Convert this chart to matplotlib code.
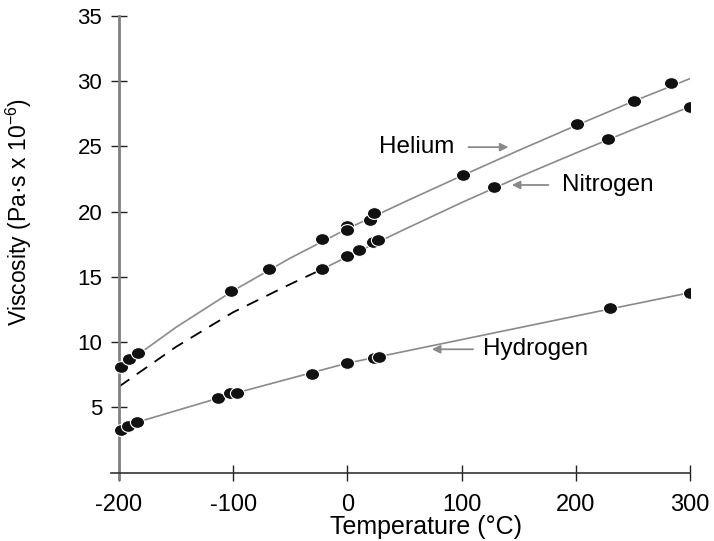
import matplotlib
matplotlib.use('Agg')
from matplotlib import pyplot as plt
from matplotlib.markers import MarkerStyle
from matplotlib.transforms import Affine2D

plt.rcParams['font.family'] = ['Liberation Sans', 'DejaVu Sans']
plt.rcParams['mathtext.default'] = 'regular'
plt.rcParams['axes.unicode_minus'] = False

# measured points
helium_t = [-198, -191, -183, -102, -69, -22, 0, 0, 20, 23, 101, 201, 251, 283]
helium_v = [8.1, 8.7, 9.2, 13.9, 15.6, 17.9, 18.9, 18.6, 19.4, 19.9, 22.8, 26.7, 28.5, 29.9]
nitrogen_t = [-22, 0, 10, 22, 27, 128, 228, 300]
nitrogen_v = [15.6, 16.6, 17.1, 17.7, 17.8, 21.9, 25.6, 28.0]
hydrogen_t = [-198, -192, -184, -113, -103, -97, -31, 0, 23, 28, 230, 300]
hydrogen_v = [3.3, 3.6, 3.9, 5.7, 6.1, 6.1, 7.6, 8.4, 8.8, 8.9, 12.6, 13.8]

# curves
helium_fit_t = [-200, -150, -100, -50, 0, 50, 100, 150, 200, 250, 300]
helium_fit_v = [8.0, 11.15, 13.95, 16.45, 18.7, 20.75, 22.75, 24.7, 26.6, 28.45, 30.2]
nitrogen_fit_t = [-22, 0, 50, 100, 150, 200, 250, 300]
nitrogen_fit_v = [15.6, 16.55, 18.65, 20.7, 22.65, 24.5, 26.3, 28.05]
nitrogen_dash_t = [-200, -150, -100, -50, -22]
nitrogen_dash_v = [6.6, 9.65, 12.3, 14.45, 15.6]
hydrogen_fit_t = [-200, -183, -100, 0, 28, 230, 300]
hydrogen_fit_v = [3.3, 3.9, 6.05, 8.4, 8.9, 12.55, 13.8]

x_ticks = [-200, -100, 0, 100, 200, 300]
y_ticks = [5, 10, 15, 20, 25, 30, 35]

fig = plt.figure(figsize=(7.14, 5.41), dpi=100)
ax = fig.add_axes([111 / 714, 1 - 478.6 / 541, (690 - 111) / 714, (478.6 - 16) / 541])

line_kw = dict(color='#8a8a8a', lw=1.2, zorder=2)
ax.plot(helium_fit_t, helium_fit_v, **line_kw)
ax.plot(nitrogen_fit_t, nitrogen_fit_v, **line_kw)
ax.plot(hydrogen_fit_t, hydrogen_fit_v, **line_kw)
ax.plot(nitrogen_dash_t, nitrogen_dash_v, color='black', lw=1.3, dashes=(7, 5), zorder=2)

dot = MarkerStyle('o', transform=Affine2D().scale(1.2, 1.0))
mk = dict(ls='none', marker=dot, ms=8.5, mfc='#111111', mec='white', mew=0.8, zorder=3)
ax.plot(helium_t, helium_v, **mk)
ax.plot(nitrogen_t, nitrogen_v, **mk)
ax.plot(hydrogen_t, hydrogen_v, **mk)

arrow = dict(arrowstyle='-|>', color='#8a8a8a', lw=1.3, mutation_scale=12, shrinkA=0, shrinkB=0)
ax.annotate('', xy=(141, 24.95), xytext=(106, 24.95), arrowprops=arrow)
ax.text(28, 24.95, 'Helium', fontsize=17.5, va='center', ha='left')
ax.annotate('', xy=(144, 22.05), xytext=(176, 22.05), arrowprops=arrow)
ax.text(188, 22.05, 'Nitrogen', fontsize=17.5, va='center', ha='left')
ax.annotate('', xy=(74, 9.46), xytext=(110, 9.46), arrowprops=arrow)
ax.text(119, 9.46, 'Hydrogen', fontsize=17.5, va='center', ha='left')

ax.set_xlim(-207, 300)
ax.set_ylim(-0.45, 35)
ax.spines['top'].set_visible(False)
ax.spines['right'].set_visible(False)
ax.spines['left'].set_position(('data', -200))
ax.spines['bottom'].set_position(('data', 0))
ax.spines['left'].set_color('#808080')
ax.spines['left'].set_linewidth(2)
ax.spines['bottom'].set_color('#333333')
ax.spines['bottom'].set_linewidth(1.2)
ax.set_xticks(x_ticks)
ax.set_yticks(y_ticks)
ax.tick_params(axis='both', direction='inout', length=12, width=1, colors='#222222',
               labelcolor='black')
ax.tick_params(axis='y', pad=6, labelsize=16)
ax.tick_params(axis='x', pad=9, labelsize=17)

fig.text(426 / 714, 1 - 527 / 541, 'Temperature (°C)', fontsize=18, ha='center', va='center')
fig.text(19 / 714, 1 - 212 / 541, 'Viscosity (Pa·s x 10$^{-6}$)', fontsize=16.5,
         rotation=90, ha='center', va='center')

fig.savefig('out.png', dpi=100)
